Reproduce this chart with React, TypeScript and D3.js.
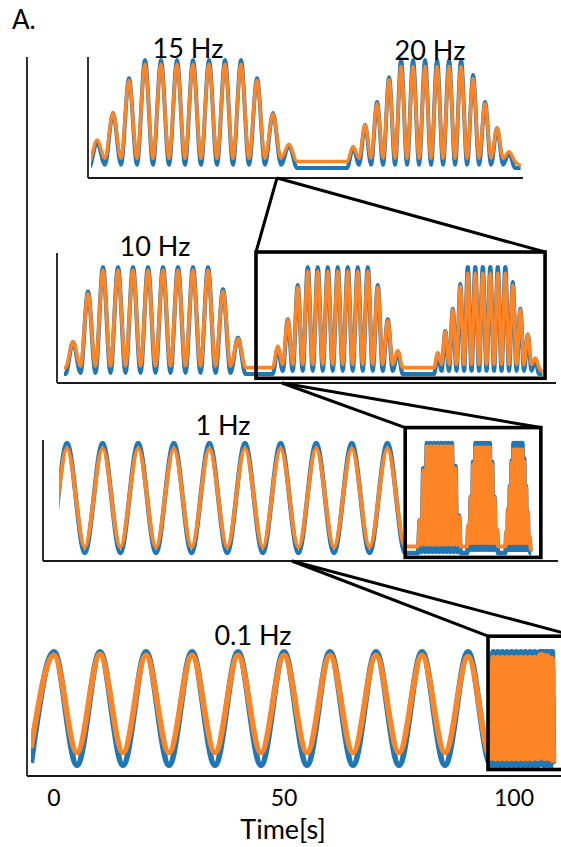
import React from "react";
import * as d3 from "d3";

const W = 561;
const H = 847;

// ---------- data (normalised amplitude: 0 = blue baseline, 1 = blue full peak) ----------
const TIME_TICKS = [0, 50, 100];
const AXIS_TITLE = "Time[s]";
const PANEL_LABELS = ["15 Hz", "20 Hz", "10 Hz", "1 Hz", "0.1 Hz"];

const BASELINE = [0.0, 0.06]; // blue, orange flat level
const END_TIME = 108.54;
const END_LEVEL = [0.0, 0.02];

// 0.1 Hz segment
const slowFreq = 0.1;
const slowFirstPeak = 0;
const slowBlue = [1, 1, 1, 1, 1, 1, 1, 1, 1, 1];
const slowOrange = [0.97, 0.98, 0.97, 0.97, 0.97, 0.97, 0.97, 0.97, 0.97, 0.96];
const slowTrough = [0.0, 0.11];
const slowStartLevel = [0.02, 0.15];

// 1 Hz segment
const f1Freq = 1;
const f1FirstPeak = 95.5;
const f1Blue = [1, 1, 1, 1, 1, 1, 1, 1, 1, 1];
const f1Orange = [0.95, 0.95, 0.95, 0.95, 0.95, 0.95, 0.95, 0.95, 0.95, 0.95];
const f1Trough = [0.0, 0.055];

// 10 Hz burst
const f10Freq = 10;
const f10FirstPeak = 105.41;
const f10Blue = [0.3, 0.77, 1, 1, 1, 1, 1, 1, 1, 1, 0.79, 0.34];
const f10Orange = [0.3, 0.75, 0.97, 0.97, 0.97, 0.97, 0.97, 0.97, 0.97, 0.97, 0.77, 0.33];
const f10Trough = [0.01, 0.075];

// 15 Hz burst
const f15Freq = 15;
const f15FirstPeak = 106.775;
const f15Blue = [0.24, 0.51, 0.83, 1, 1, 1, 1, 1, 1, 1, 0.83, 0.51, 0.21];
const f15Orange = [0.26, 0.51, 0.81, 0.96, 0.96, 0.96, 0.96, 0.96, 0.96, 0.96, 0.81, 0.5, 0.22];
const f15Trough = [0.03, 0.09];

// 20 Hz burst
const f20Freq = 20;
const f20FirstPeak = 107.842;
const f20Blue = [0.19, 0.4, 0.61, 0.84, 1, 1, 1, 1, 1, 1, 0.86, 0.61, 0.37, 0.14];
const f20Orange = [0.2, 0.4, 0.6, 0.82, 0.94, 0.94, 0.94, 0.94, 0.94, 0.94, 0.83, 0.6, 0.37, 0.15];
const f20Trough = [0.03, 0.09];

// ---------- build the series (peaks + troughs) ----------
type Pt = { t: number; b: number; o: number };

function buildSeries(): Pt[] {
  const segs = [
    { freq: slowFreq, first: slowFirstPeak, blue: slowBlue, orange: slowOrange, trough: slowTrough, startLevel: slowStartLevel },
    { freq: f1Freq, first: f1FirstPeak, blue: f1Blue, orange: f1Orange, trough: f1Trough, startLevel: BASELINE },
    { freq: f10Freq, first: f10FirstPeak, blue: f10Blue, orange: f10Orange, trough: f10Trough, startLevel: BASELINE },
    { freq: f15Freq, first: f15FirstPeak, blue: f15Blue, orange: f15Orange, trough: f15Trough, startLevel: BASELINE },
    { freq: f20Freq, first: f20FirstPeak, blue: f20Blue, orange: f20Orange, trough: f20Trough, startLevel: BASELINE },
  ];
  const pts: Pt[] = [];
  const push = (t: number, lv: number[]) => {
    if (pts.length && t <= pts[pts.length - 1].t + 1e-9) return;
    pts.push({ t, b: lv[0], o: lv[1] });
  };
  segs.forEach((s) => {
    const half = 0.5 / s.freq;
    const n = s.blue.length;
    s.blue.forEach((bv, k) => {
      const tp = s.first + k / s.freq;
      if (k === 0) push(tp - half, s.startLevel);
      push(tp, [bv, s.orange[k]]);
      push(tp + half, k === n - 1 ? BASELINE : s.trough);
    });
  });
  push(END_TIME, END_LEVEL);
  return pts;
}

const series = buildSeries();

// ---------- layout ----------
const FONT = "Lato, 'Open Sans', sans-serif";
const BLUE = "#2077b4";
const ORANGE = "#fd8526";

type Panel = {
  id: string;
  x: d3.ScaleLinear<number, number>;
  y: d3.ScaleLinear<number, number>;
  tStart: number;
  clip: [number, number, number, number];
  sw: number;
  axisX: number;
  axisTop: number;
  axisBottom: number;
  axisRight: number;
  box?: [number, number];
};

const panels: Panel[] = [
  {
    id: "p15",
    x: d3.scaleLinear().domain([106.75, 108.54]).range([91, 520.6]),
    y: d3.scaleLinear().domain([0, 1]).range([168, 60]),
    tStart: 106.75,
    clip: [0, 30, W, 177],
    sw: 3.4,
    axisX: 88, axisTop: 57, axisBottom: 178, axisRight: 523,
  },
  {
    id: "p10",
    x: d3.scaleLinear().domain([105.35, 108.54]).range([64, 542.5]),
    y: d3.scaleLinear().domain([0, 1]).range([374, 267]),
    tStart: 105.35,
    clip: [0, 235, W, 382],
    sw: 3.6,
    axisX: 57, axisTop: 253, axisBottom: 383, axisRight: 556,
    box: [106.63, 108.557],
  },
  {
    id: "p1",
    x: d3.scaleLinear().domain([95.5, 104.5]).range([67, 387.4]),
    y: d3.scaleLinear().domain([0, 1]).range([553, 443]),
    tStart: 95.28,
    clip: [0, 415, W, 560],
    sw: 4,
    axisX: 43, axisTop: 440, axisBottom: 561, axisRight: 558,
    box: [105.0, 108.81],
  },
  {
    id: "p01",
    x: d3.scaleLinear().domain([0, 100]).range([54, 514]),
    y: d3.scaleLinear().domain([0, 1]).range([765, 652]),
    tStart: -5,
    clip: [0, 600, W, 775],
    sw: 5.6,
    axisX: 27, axisTop: 57, axisBottom: 776, axisRight: 561,
    box: [94.35, 113.5],
  },
];

// connector anchors on the x-axis of the panel above each box
const connectorAnchorX = [277, 282, 292];
const BOX_V = [-0.04, 1.14];

const labelPos: [number, number][] = [
  [188, 58],
  [430, 60],
  [155, 256],
  [223, 435],
  [253, 645],
];

export default function App() {
  return (
    <svg
      width={W}
      height={H}
      viewBox={`0 0 ${W} ${H}`}
      style={{ position: "absolute", left: 0, top: 0, background: "#fff" }}
    >
      <defs>
        {panels.map((p) => {
          const x0 = p.x(p.tStart);
          return (
            <clipPath id={`clip-${p.id}`} key={p.id}>
              <rect x={x0} y={p.clip[1]} width={p.clip[2] - x0} height={p.clip[3] - p.clip[1]} />
            </clipPath>
          );
        })}
      </defs>
      <rect x={0} y={0} width={W} height={H} fill="#fff" />

      {/* signals */}
      {panels.map((p) => {
        const lb = d3
          .line<Pt>()
          .x((d) => p.x(d.t))
          .y((d) => p.y(d.b))
          .curve(d3.curveMonotoneX);
        const lo = d3
          .line<Pt>()
          .x((d) => p.x(d.t))
          .y((d) => p.y(d.o))
          .curve(d3.curveMonotoneX);
        return (
          <g key={p.id} clipPath={`url(#clip-${p.id})`}>
            <path d={lb(series) || ""} fill="none" stroke={BLUE} strokeWidth={p.sw + 0.6} strokeLinejoin="round" />
            <path d={lo(series) || ""} fill="none" stroke={ORANGE} strokeWidth={p.sw} strokeLinejoin="round" />
          </g>
        );
      })}

      {/* axes */}
      {panels.map((p) => (
        <g key={`ax-${p.id}`} stroke="#1a1a1a" strokeWidth={1.8} fill="none">
          <line x1={p.axisX} y1={p.axisTop} x2={p.axisX} y2={p.axisBottom} />
          <line x1={p.axisX} y1={p.axisBottom} x2={p.axisRight} y2={p.axisBottom} />
        </g>
      ))}

      {/* zoom boxes and connectors */}
      {panels.map((p, i) => {
        if (!p.box) return null;
        const up = panels[i - 1];
        const bx0 = p.x(p.box[0]);
        const bx1 = p.x(p.box[1]);
        const by0 = p.y(BOX_V[1]);
        const by1 = p.y(BOX_V[0]);
        const ax = connectorAnchorX[i - 1];
        const ay = up.axisBottom;
        return (
          <g key={`box-${p.id}`} fill="none" stroke="#000">
            <line x1={ax} y1={ay} x2={bx0} y2={by0} strokeWidth={3} />
            <line x1={ax} y1={ay} x2={bx1} y2={by0} strokeWidth={3} />
            <rect x={bx0} y={by0} width={bx1 - bx0} height={by1 - by0} strokeWidth={3.6} />
          </g>
        );
      })}

      {/* frequency labels */}
      {PANEL_LABELS.map((s, i) => (
        <text
          key={s}
          x={labelPos[i][0]}
          y={labelPos[i][1]}
          textAnchor="middle"
          fontFamily={FONT}
          fontSize={27}
          fill="#000"
        >
          {s}
        </text>
      ))}

      {/* bottom time axis labels */}
      {TIME_TICKS.map((t) => (
        <text
          key={t}
          x={panels[3].x(t)}
          y={806}
          textAnchor="middle"
          fontFamily={FONT}
          fontSize={23}
          fill="#000"
        >
          {t}
        </text>
      ))}
      <text x={283} y={839} textAnchor="middle" fontFamily={FONT} fontSize={27} fill="#000">
        {AXIS_TITLE}
      </text>

      <text x={12} y={29} fontFamily={FONT} fontSize={26} fill="#000">
        A.
      </text>
    </svg>
  );
}
